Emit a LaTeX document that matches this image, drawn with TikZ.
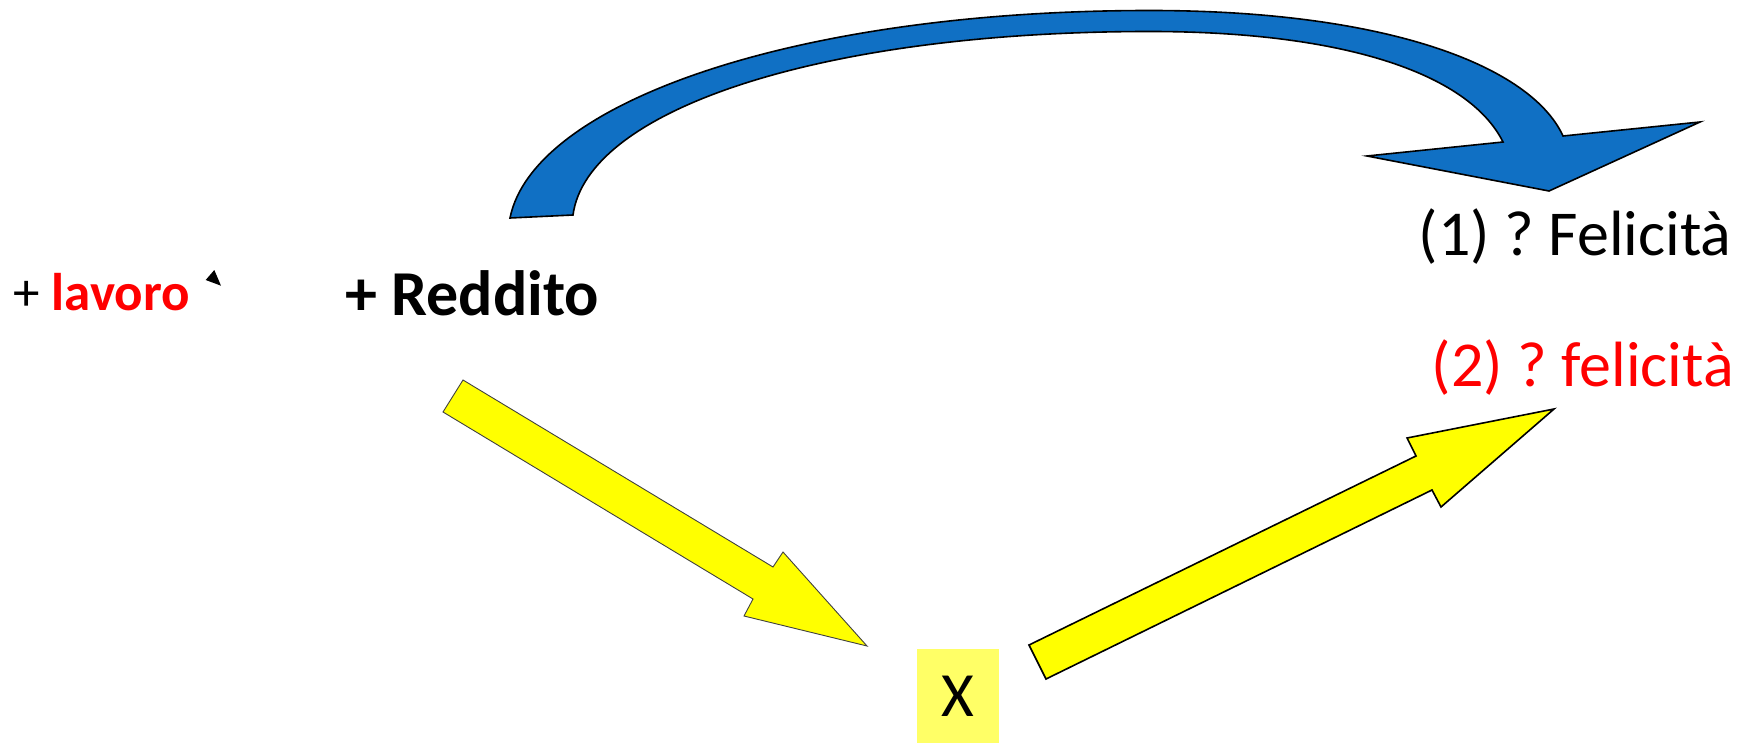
\documentclass[tikz,border=0pt]{standalone}
\usepackage{fontspec}
\setmainfont{Carlito}
\frenchspacing
\definecolor{arcblue}{RGB}{16,112,196}
\definecolor{boxyellow}{RGB}{255,255,102}
\definecolor{pureyellow}{RGB}{255,255,0}
\definecolor{txtred}{RGB}{255,0,0}
\begin{document}
\begin{tikzpicture}[x=1pt,y=-1pt,
  bluearrow/.style={fill=arcblue,draw=black,line width=1.6pt,line join=miter},
  yelarrowA/.style={fill=pureyellow,draw=black!75,line width=0.9pt,line join=miter},
  yelarrowB/.style={fill=pureyellow,draw=black,line width=1.6pt,line join=miter},
  lbl/.style={inner sep=0pt,outer sep=0pt},
  xbox/.style={fill=boxyellow,inner sep=0pt,minimum width=82pt,minimum height=94pt,font=\fontsize{63}{72}\selectfont}]
\useasboundingbox (0,0) rectangle (1752,743);
% texts
\node[lbl,anchor=base west] (lavoro) at (13.5,310) {\fontsize{53}{60}\selectfont +\ \textcolor{txtred}{\bfseries lavoro}};
\node[lbl,anchor=base west] (reddito) at (345,315.5) {\fontsize{64}{72}\selectfont\bfseries + Reddito};
\node[lbl,anchor=base east] (fel1) at (1731.5,255) {\fontsize{64}{72}\selectfont (1) ? Felicità};
\node[lbl,anchor=base east] (fel2) at (1734,386) {\fontsize{64}{72}\selectfont\color{txtred}(2) ? felicità};
\node[xbox] (x) at (958,696) {X};
% small black triangle
\fill[black] (205.7,280) -- (214.3,270) -- (221,285.7) -- cycle;
% blue curved arrow
\draw[bluearrow] (510,218) .. controls (533,103) and (794,10.5) .. (1150,10.5)
  .. controls (1387,10.5) and (1531,66) .. (1563,136)
  -- (1700,122) -- (1549,191) -- (1367,156) -- (1503,142)
  .. controls (1468,72) and (1340,31.5) .. (1150,31.5)
  .. controls (820,31.5) and (587,110) .. (573,215) -- cycle;
% yellow arrow 1
\draw[yelarrowA] (463,380) -- (773,567) -- (783,552) -- (867,646) -- (744,616) -- (753,599) -- (443,412) -- cycle;
% yellow arrow 2
\draw[yelarrowB] (1029,645) -- (1416,456) -- (1407,438) -- (1554,409) -- (1441,507) -- (1432,490) -- (1046,679) -- cycle;
\end{tikzpicture}
\end{document}
